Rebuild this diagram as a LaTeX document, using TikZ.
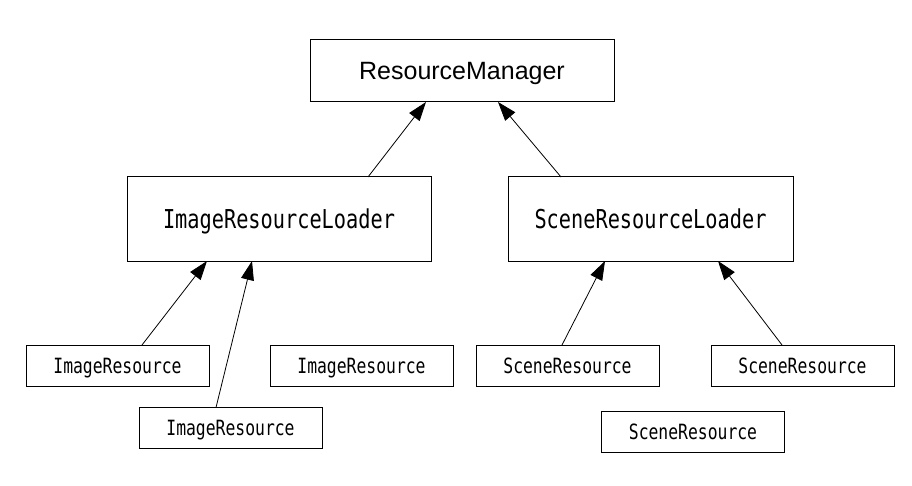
\documentclass[tikz,border=0pt]{standalone}
\usepackage{fontspec}
\setmainfont{Liberation Sans}
\newfontfamily\gothic[FakeStretch=0.78]{DejaVu Sans Mono}
\usetikzlibrary{arrows.meta}

\begin{document}
\begin{tikzpicture}[x=1pt,y=-1pt,
	box/.style={draw,line width=1pt,inner sep=0pt,outer sep=0pt,text depth=0pt},
	loader/.style={box,minimum height=84pt,text height=19pt,font=\gothic\fontsize{26}{30}\selectfont},
	res/.style={box,minimum height=41pt,minimum width=183pt,text height=15.3pt,font=\gothic\fontsize{21}{24}\selectfont}]
	\useasboundingbox (0,0) rectangle (912,486);
	
	\node[box,minimum height=62pt,minimum width=304pt,text height=17.9pt,font=\fontsize{25}{30}\selectfont](RM) at (462,71){ResourceManager};
	\node[loader,minimum width=304pt](IRL) at (279,219){ImageResourceLoader};
	\node[loader,minimum width=285pt](SRL) at (650.5,219){SceneResourceLoader};
	
	\foreach \nm/\txt/\x/\y in
		{IR1/Image/117.5/365.5, IR2/Image/230.5/428, IR3/Image/361.5/365.5,
		 SR1/Scene/567.5/365.5, SR2/Scene/802.5/365.5, SR3/Scene/693/432}
		\node[res](\nm) at (\x,\y){\txt Resource};
	
	\path[-{Triangle[length=19pt,width=13pt]},line width=0.8pt]
		([xshift=89pt]IRL.north) edge ([xshift=-36pt]RM.south)
		([xshift=-89.5pt]SRL.north) edge ([xshift=36pt]RM.south)
		([xshift=24.5pt]IR1.north) edge ([xshift=-72pt]IRL.south)
		([xshift=-14.5pt]IR2.north) edge ([xshift=-27pt]IRL.south)
		([xshift=-5.5pt]SR1.north) edge ([xshift=-45.5pt]SRL.south)
		([xshift=-20.5pt]SR2.north) edge ([xshift=67.5pt]SRL.south);
\end{tikzpicture}
\end{document}
